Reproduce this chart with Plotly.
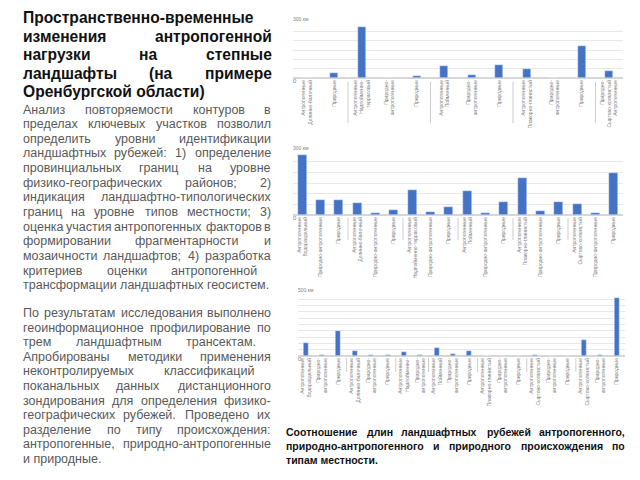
import plotly.graph_objects as go

# ---------------- data ----------------
AN = "Антропогенные"
PA = "Природно-<br>антропогенные"
PA1 = "Природно-антропогенные"
PR = "Природные"

labels1 = [AN + "<br>Долинно-балочный", PR, AN + "<br>Надпойменно-<br>террасовый", PA, PR,
           AN + "<br>Пойменный", PA, PR, AN + "<br>Плакорно-глинистый", PA, PR,
           "Природно-<br>Сыртово-холмистый<br>Антропогенные"]
values1 = [2, 26, 274, 1, 11, 64, 14, 71, 49, 2, 173, 37]
sep1 = [1.5, 4.5, 7.5, 10.5]

labels2 = [AN + "<br>Водораздельный", PA1, PR, AN + "<br>Долинно-балочный", PA1, PR,
           AN + "<br>Надпойменно-террасовый", PA1, PR, AN + "<br>Пойменный", PA1, PR,
           AN + "<br>Плакорно-глинистый", PA1, PR, AN + "<br>Сыртово-холмистый", PA1, PR]
values2 = [281, 69, 68, 57, 9, 22, 115, 15, 37, 114, 11, 60, 174, 18, 62, 52, 9, 195]
sep2 = [2.5, 5.5, 8.5, 11.5, 14.5]

labels3 = [AN + "<br>Водораздельный", PA, PR, AN + "<br>Долинно-балочный", PA, PR,
           AN + "<br>Надпойменно-", PA, AN + "<br>Пойменный", PA, PR,
           AN + "<br>Плакорно-глинистый", PA, PR, AN + "<br>Сыртово-холмистый", PA, PR,
           AN + "<br>Сыртово-холмистый", PA, PR]
values3 = [101, 8, 200, 43, 6, 11, 35, 5, 66, 19, 40, 1.5, 1.5, 1.5, 5, 1.5, 1.5, 128, 6, 460]
sep3 = [2.5, 5.5, 7.5, 10.5, 13.5, 16.5]

title_lines = ["Пространственно-временные", "изменения антропогенной", "нагрузки на степные",
               "ландшафты (на примере", "Оренбургской области)"]
para1 = ["Анализ повторяемости контуров в",
         "пределах ключевых участков позволил",
         "определить уровни идентификации",
         "ландшафтных рубежей: 1) определение",
         "провинциальных границ на уровне",
         "физико-географических районов; 2)",
         "индикация ландшафтно-типологических",
         "границ на уровне типов местности; 3)",
         "оценка участия антропогенных факторов в",
         "формировании фрагментарности и",
         "мозаичности ландшафтов; 4) разработка",
         "критериев оценки антропогенной",
         "трансформации ландшафтных геосистем."]
para2 = ["По результатам исследования выполнено",
         "геоинформационное профилирование по",
         "трем ландшафтным трансектам.",
         "Апробированы методики применения",
         "неконтролируемых классификаций",
         "поканальных данных дистанционного",
         "зондирования для определения физико-",
         "географических рубежей. Проведено их",
         "разделение по типу происхождения:",
         "антропогенные, природно-антропогенные",
         "и природные."]
caption = ["Соотношение длин ландшафтных рубежей антропогенного,",
           "природно-антропогенного и природного происхождения по",
           "типам местности."]

# ---------------- helpers ----------------
OFF = 8                      # page body margin of the html page
W, H = 640 - OFF, 480 - OFF  # figure size so the page fits the window
FONT = "Liberation Sans, Arial, sans-serif"
CW = {'а': .556, 'б': .573, 'в': .531, 'г': .365, 'д': .583, 'е': .556, 'ж': .669, 'з': .458,
      'и': .559, 'й': .559, 'к': .438, 'л': .583, 'м': .688, 'н': .552, 'о': .556, 'п': .542,
      'р': .556, 'с': .5, 'т': .458, 'у': .5, 'ф': .823, 'х': .5, 'ц': .573, 'ч': .521,
      'ш': .802, 'щ': .823, 'ъ': .625, 'ы': .719, 'ь': .521, 'э': .51, 'ю': .75, 'я': .542,
      ' ': .278, '-': .333, ',': .278, '.': .278, ';': .278, ':': .278, '(': .333, ')': .333}


def tw(s, size, bold=False):
    w = sum(CW.get(c, .7 if c.isupper() else .556) for c in s)
    return w * size * (1.08 if bold else 1.0)


annotations = []


def px(x):
    return (x - OFF) / W


def py(y):
    return 1 - (y - OFF) / H


def add_text(s, x, y, size, color, bold=False, anchor="left"):
    t = "<b>" + s + "</b>" if bold else s
    annotations.append(dict(text=t, x=px(x), y=py(y), xref="paper", yref="paper",
                            xanchor=anchor, yanchor="middle", showarrow=False,
                            font=dict(family=FONT, size=size, color=color), borderpad=0))


def justify(line, y, x0, x1, size, color, bold=False, last=False):
    words = line.split(" ")
    if last or len(words) == 1:
        add_text(line, x0, y, size, color, bold)
        return
    ws = [tw(w, size, bold) for w in words]
    gap = (x1 - x0 - sum(ws)) / (len(words) - 1)
    cur = x0
    for i, (w, ww) in enumerate(zip(words, ws)):
        if i == 0:
            add_text(w, x0, y, size, color, bold, "left")
        elif i == len(words) - 1:
            add_text(w, x1, y, size, color, bold, "right")
        else:
            add_text(w, cur + ww / 2, y, size, color, bold, "center")
        cur += ww + gap


# ---------------- figure ----------------
fig = go.Figure()
BAR = "#4472C4"
charts = [
    (labels1, values1, sep1, 300, "300 км", (293, 623), (22, 78), 0.3, (82, 123)),
    (labels2, values2, sep2, 300, "300 км", (293, 623), (151, 215), 0.5, (218, 240)),
    (labels3, values3, sep3, 500, "500 км", (297.5, 625), (293, 356), 0.3, (358, 372)),
]
shapes = []
for k, (labs, vals, seps, top, toplab, (xa, xb), (ya, yb), bw, (sa, sb)) in enumerate(charts):
    xn = "x" if k == 0 else "x%d" % (k + 1)
    yn = "y" if k == 0 else "y%d" % (k + 1)
    fig.add_trace(go.Bar(x=list(range(len(vals))), y=vals, width=bw, marker_color=BAR,
                         xaxis=xn, yaxis=yn, showlegend=False, hoverinfo="skip"))
    xkey = "xaxis" if k == 0 else "xaxis%d" % (k + 1)
    ykey = "yaxis" if k == 0 else "yaxis%d" % (k + 1)
    fig.layout[xkey] = dict(domain=[px(xa), px(xb)], anchor=yn, range=[-0.5, len(vals) - 0.5],
                            tickvals=list(range(len(vals))), ticktext=labs, tickangle=-90,
                            tickfont=dict(family=FONT, size=5, color="#808080"),
                            showgrid=False, zeroline=False, showline=False, ticks="",
                            fixedrange=True)
    fig.layout[ykey] = dict(domain=[py(yb), py(ya)], anchor=xn, range=[0, top], dtick=50,
                            showticklabels=False, showgrid=True, gridcolor="#e8e8e8",
                            gridwidth=1, zeroline=True, zerolinecolor="#d6d6d6",
                            showline=False, ticks="", fixedrange=True)
    add_text(toplab, xa - 1, ya - 3, 5, "#7f7f7f")
    add_text("0", xa - 1, yb + 3, 6, "#7f7f7f")
    for s in seps:
        shapes.append(dict(type="line", xref=xn, yref="paper", x0=s, x1=s,
                           y0=py(sa), y1=py(sb), line=dict(color="#cccccc", width=1)))

# title
for i, line in enumerate(title_lines):
    justify(line, 18 + i * 18.5, 22, 273, 15.6, "#111111", bold=True, last=(i in (0, 4)))

# body paragraphs
right1 = {11: 258}
for i, line in enumerate(para1):
    justify(line, 109.5 + i * 14.65, 22, right1.get(i, 271.5), 12.5, "#595959",
            last=(i == len(para1) - 1))
right2 = {2: 257, 4: 255}
for i, line in enumerate(para2):
    justify(line, 313 + i * 14.6, 22, right2.get(i, 271.5), 12.5, "#595959",
            last=(i == len(para2) - 1))

# caption
for i, line in enumerate(caption):
    justify(line, 432 + i * 14, 285, 626, 10.5, "#111111", bold=True, last=(i == 2))

fig.update_layout(width=W, height=H, margin=dict(l=0, r=0, t=0, b=0),
                  paper_bgcolor="white", plot_bgcolor="white",
                  annotations=annotations, shapes=shapes, bargap=0)
fig.write_html("out.html")
